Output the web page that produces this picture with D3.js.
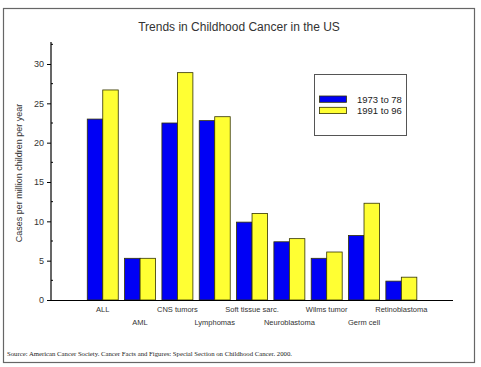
<!DOCTYPE html>
<html><head><meta charset="utf-8">
<script src="https://cdn.jsdelivr.net/npm/d3@7"></script>
<style>body{margin:0;background:#fff}svg{display:block}</style>
</head><body><svg id="c" width="481" height="367"></svg>
<script>
const categories = ["ALL","AML","CNS tumors","Lymphomas","Soft tissue sarc.","Neuroblastoma","Wilms tumor","Germ cell","Retinoblastoma"];
const seriesNames = ["1973 to 78","1991 to 96"];
const period1 = [23.0,5.3,22.5,22.8,9.9,7.4,5.3,8.2,2.4];
const period2 = [26.7,5.3,28.9,23.3,11.0,7.8,6.1,12.3,2.9];
const yTicks = [0,5,10,15,20,25,30];
const colors = ["#0000f5","#ffff33"];

const svg = d3.select("#c");
svg.append("rect").attr("x",3.5).attr("y",8.5).attr("width",471).attr("height",354)
  .attr("fill","#fff").attr("stroke","#666").attr("stroke-width",1.2);

svg.append("text").attr("x",239).attr("y",31).attr("text-anchor","middle")
  .attr("font-family","Liberation Sans, Arial, sans-serif").attr("font-size",12).attr("fill","#333")
  .text("Trends in Childhood Cancer in the US");

const y = d3.scaleLinear().domain([0,30]).range([300,64]);
const x0 = d3.scaleBand().domain(categories).range([84.1,420]).paddingInner(0.17).paddingOuter(0.085);
const x1 = d3.scaleBand().domain([0,1]).range([0,x0.bandwidth()]);

const data = categories.map((c,i)=>({cat:c, vals:[period1[i],period2[i]]}));
const g = svg.append("g");
g.selectAll("g.grp").data(data).join("g").attr("class","grp")
  .attr("transform",d=>`translate(${x0(d.cat)},0)`)
  .selectAll("rect").data(d=>d.vals.map((v,k)=>({v,k}))).join("rect")
  .attr("x",d=>x1(d.k)).attr("width",x1.bandwidth())
  .attr("y",d=>y(d.v)).attr("height",d=>y(0)-y(d.v))
  .attr("fill",d=>colors[d.k]).attr("stroke","#333300").attr("stroke-width",0.8);

// y axis
const ax = svg.append("g").attr("transform","translate(51,0)");
ax.append("line").attr("x1",0).attr("x2",0).attr("y1",42).attr("y2",300).attr("stroke","#000").attr("stroke-width",1.2);
const yAxis = d3.axisLeft(y).tickValues(yTicks).tickSize(4).tickSizeOuter(0).tickPadding(3);
const yg = ax.append("g").call(yAxis);
yg.select(".domain").remove();
yg.selectAll("text").attr("font-family","Liberation Sans, Arial, sans-serif").attr("font-size",9).attr("fill","#333");
const minor = d3.range(2.5,33,5);
ax.selectAll("line.minor").data(minor).join("line").attr("class","minor")
  .attr("x1",0).attr("x2",2).attr("y1",d=>y(d)).attr("y2",d=>y(d)).attr("stroke","#000");

// x axis line
svg.append("line").attr("x1",51).attr("x2",453).attr("y1",300.5).attr("y2",300.5).attr("stroke","#000").attr("stroke-width",1.2);
svg.selectAll("text.xl").data(categories).join("text").attr("class","xl")
  .attr("x",d=>x0(d)+x0.bandwidth()/2).attr("y",(d,i)=>i%2===0?312:325)
  .attr("text-anchor","middle").attr("font-family","Liberation Sans, Arial, sans-serif")
  .attr("font-size",7.5).attr("fill","#333").text(d=>d);

svg.append("text").attr("transform","translate(22,173) rotate(-90)").attr("text-anchor","middle")
  .attr("font-family","Liberation Sans, Arial, sans-serif").attr("font-size",9).attr("fill","#333")
  .text("Cases per million children per year");

// legend
const lg = svg.append("g");
lg.append("rect").attr("x",314.5).attr("y",74.5).attr("width",92).attr("height",61)
  .attr("fill","#fff").attr("stroke","#555");
seriesNames.forEach((s,i)=>{
  lg.append("rect").attr("x",319.5).attr("y",96+i*11.3).attr("width",27).attr("height",6.3)
    .attr("fill",colors[i]).attr("stroke","#333300").attr("stroke-width",0.8);
  lg.append("text").attr("x",357).attr("y",103+i*11.3).attr("font-family","Liberation Sans, Arial, sans-serif")
    .attr("font-size",9.5).attr("fill","#222").text(s);
});

svg.append("text").attr("x",7).attr("y",356).attr("font-family","Liberation Serif, Times New Roman, serif")
  .attr("font-size",7).attr("fill","#222").attr("textLength",285).attr("lengthAdjust","spacingAndGlyphs")
  .text("Source:  American Cancer Society. Cancer Facts and Figures: Special Section on Childhood Cancer. 2000.");
</script></body></html>
